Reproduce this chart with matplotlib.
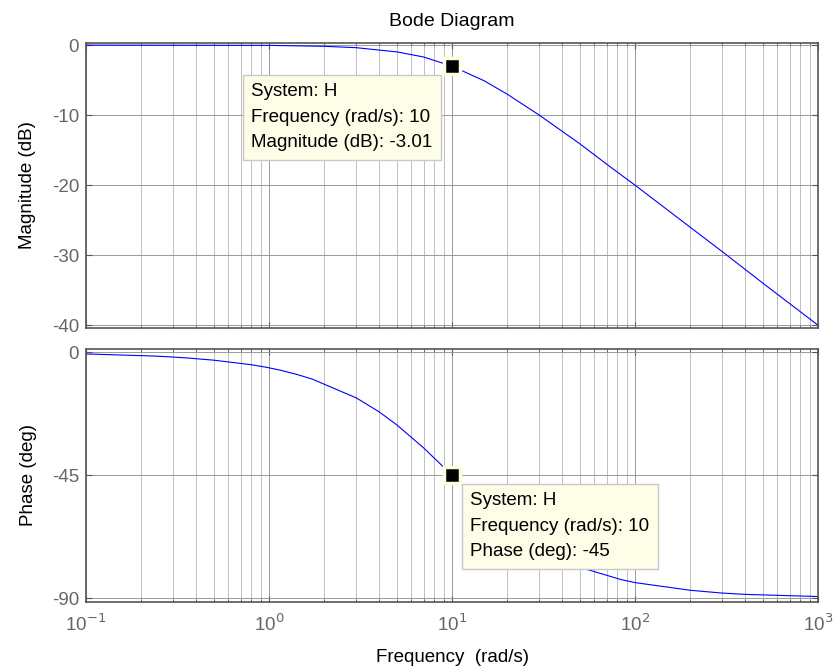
import numpy as np
import matplotlib
matplotlib.use("Agg")
import matplotlib.pyplot as plt
from matplotlib.ticker import FuncFormatter

plt.rcParams['font.family'] = ['Liberation Sans', 'DejaVu Sans']
plt.rcParams['axes.unicode_minus'] = False

# magnitude samples
mag_w = [0.1, 1, 2, 3, 5, 7, 10, 15, 20, 30, 50, 70, 100, 200, 300, 500, 1000]
mag_db = [0.0, -0.04, -0.17, -0.37, -0.97, -1.7, -3.01, -5.1, -7.0, -10.0,
          -14.1, -17.0, -20.0, -26.0, -29.5, -34.0, -40.0]

# phase samples
ph_w = [0.1, 0.24, 0.29, 0.36, 0.5, 0.79, 0.97, 1.16, 1.42, 1.72, 3.0, 4.0,
        5.0, 7.0, 10, 15, 20, 30, 50, 84, 100, 200, 295, 396, 1000]
ph_deg = [-0.6, -1.4, -1.7, -2.1, -2.9, -4.5, -5.5, -6.6, -8.1, -9.8, -16.7,
          -21.8, -26.6, -35.0, -45.0, -56.3, -63.4, -71.6, -78.7, -83.2,
          -84.3, -87.1, -88.1, -88.6, -89.4]

tip_w = 10
tip_mag = -3.01
tip_ph = -45

W, H = 833, 666
fig = plt.figure(figsize=(W / 100, H / 100), dpi=100)

def pos(l, t, r, b):
    return [l / W, 1 - b / H, (r - l) / W, (b - t) / H]

def decade(v, _):
    e = int(round(np.log10(v)))
    return r'10$^{\mathrm{%s}}$' % str(e)

ax1 = fig.add_axes(pos(86, 43, 818, 328))
ax2 = fig.add_axes(pos(86, 349, 818, 602))

axcol = '#555555'
for ax in (ax1, ax2):
    ax.set_xscale('log')
    ax.set_xlim(0.1, 1000)
    ax.grid(True, which='major', color='#999999', lw=0.7)
    ax.grid(True, which='minor', color='#c0c0c0', lw=0.7)
    ax.tick_params(which='both', direction='in', top=True, right=True,
                   colors=axcol, labelcolor='#666666', labelsize=13.5)
    ax.tick_params(which='major', length=4, pad=5)
    ax.tick_params(which='minor', length=2.5)
    for s in ax.spines.values():
        s.set_color(axcol)
        s.set_linewidth(1.2)

ax1.plot(mag_w, mag_db, color='#0000ff', lw=0.8)
ax1.set_ylim(-40.4, 0.3)
ax1.set_yticks([0, -10, -20, -30, -40])
ax1.tick_params(axis='x', labelbottom=False)
ax1.set_ylabel('Magnitude (dB)', fontsize=13.5, labelpad=11)
ax1.set_title('Bode Diagram', fontsize=14, pad=12)

ax2.plot(ph_w, ph_deg, color='#0000ff', lw=0.8)
ax2.set_ylim(-91.4, 1.2)
ax2.set_yticks([0, -45, -90])
ax2.set_ylabel('Phase (deg)', fontsize=13.5, labelpad=11)
ax2.set_xlabel('Frequency  (rad/s)', fontsize=13.5, labelpad=10)
ax2.xaxis.set_major_formatter(FuncFormatter(decade))
ax2.tick_params(axis='x', pad=8)

tipbox = dict(boxstyle='square,pad=0.45', fc='#fdfde8', ec='#c8c8c8', lw=1)
tips = [
    (ax1, tip_mag, 'System: H\nFrequency (rad/s): 10\nMagnitude (dB): -3.01', (-201, -17)),
    (ax2, tip_ph, 'System: H\nFrequency (rad/s): 10\nPhase (deg): -45', (18, -17)),
]
for ax, y, txt, off in tips:
    ax.plot([tip_w], [y], marker='s', ms=12, mfc='black', mec='#fdfde0',
            mew=2.5, zorder=5, clip_on=False)
    ax.annotate(txt, xy=(tip_w, y), xytext=off, textcoords='offset pixels',
                ha='left', va='top', fontsize=13.5, linespacing=1.65,
                bbox=tipbox, zorder=6)

fig.savefig('out.png', dpi=100)
